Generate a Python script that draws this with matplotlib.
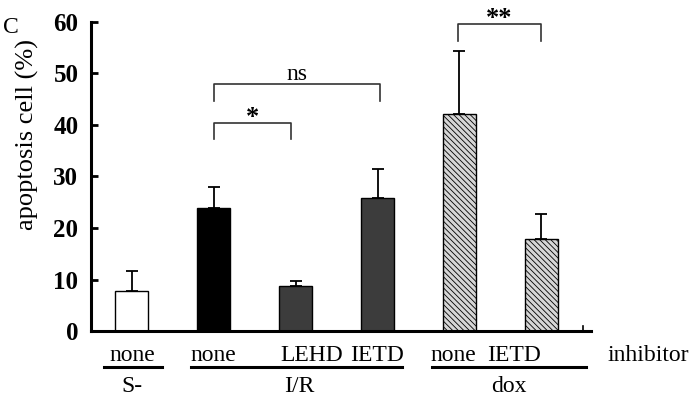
import matplotlib
matplotlib.use('Agg')
import matplotlib.pyplot as plt

plt.rcParams['font.family'] = ['Liberation Serif', 'DejaVu Serif']
plt.rcParams['hatch.color'] = '#555555'
plt.rcParams['hatch.linewidth'] = 0.6

# Data
inhibitors = ['none', 'none', 'LEHD', 'IETD', 'none', 'IETD']
values = [7.7, 23.9, 8.8, 25.8, 42.2, 17.9]
errors = [3.9, 4.0, 0.9, 5.6, 12.2, 4.8]
groups = ['S-', 'I/R', 'dox']

# bar styles
face = ['white', 'black', '#3c3c3c', '#3c3c3c', '#d6d6d6', '#d6d6d6']
hatch = [None, None, None, None, '\\\\\\\\\\\\', '\\\\\\\\\\\\']

# significance brackets: (left bar, right bar, top, drop, label)
brackets = [(1, 3.03, 48.0, 44.7, 'ns'),
            (1, 1.94, 40.4, 37.2, '*'),
            (3.98, 5, 59.6, 56.2, '**')]

fig = plt.figure(figsize=(6.94, 3.97), dpi=100)
ax = fig.add_axes([0.131, 0.166, 0.721, 0.779])

pos = list(range(len(values)))
for i in pos:
    ax.bar(i, values[i], width=0.4, color=face[i], edgecolor='black',
           linewidth=1.0, hatch=hatch[i], zorder=2)
ax.errorbar(pos, values, yerr=[[0] * len(errors), errors], fmt='none',
            ecolor='black', elinewidth=1.3, capsize=4, capthick=1.3, zorder=1)

for x1, x2, top, drop, lab in brackets:
    ax.plot([x1, x1, x2, x2], [drop, top, top, drop], color='#333333',
            linewidth=1.2, clip_on=False)
    if lab == 'ns':
        ax.text((x1 + x2) / 2, top - 0.2, lab, ha='center', va='bottom',
                fontsize=17, clip_on=False)
    else:
        ax.text((x1 + x2) / 2, top - 1.2, lab, ha='center', va='bottom',
                fontsize=19, fontweight='bold', clip_on=False)

ax.set_xlim(-0.5, 5.61)
ax.set_ylim(0, 60)
ax.set_yticks([0, 10, 20, 30, 40, 50, 60])
ax.tick_params(axis='y', direction='in', length=5, width=2, pad=9, labelsize=18)
for t in ax.get_yticklabels():
    t.set_fontweight('bold')
ax.set_xticks([])
ax.spines['top'].set_visible(False)
ax.spines['right'].set_visible(False)
ax.spines['left'].set_linewidth(2.2)
ax.spines['bottom'].set_linewidth(2.2)
# small end tick on the x axis
ax.plot([5.51, 5.51], [0, 1.0], color='black', linewidth=1.2, clip_on=False)

# category labels below the axis
tr = ax.get_xaxis_transform()
label_x = [0, 0.99, 2.2, 3.0, 3.93, 4.67]
for x, lab in zip(label_x, inhibitors):
    ax.text(x, -0.078, lab, transform=tr, ha='center', va='center', fontsize=17)
ax.text(6.3, -0.078, 'inhibitor', transform=tr, ha='center', va='center', fontsize=17)

group_spans = [(-0.34, 0.37), (0.72, 3.3), (3.66, 5.54)]
group_x = [0, 2.05, 4.6]
for (a, b), gx, g in zip(group_spans, group_x, groups):
    ax.plot([a, b], [-0.117, -0.117], transform=tr, color='black',
            linewidth=2.2, clip_on=False)
    ax.text(gx, -0.178, g, transform=tr, ha='center', va='center', fontsize=17)

fig.text(27 / 694, 0.66, 'apoptosis cell (%)', rotation=90, ha='center',
         va='center', fontsize=19)
fig.text(0.004, 0.93, 'C', ha='left', va='center', fontsize=17)

fig.savefig('out.png', dpi=100)
